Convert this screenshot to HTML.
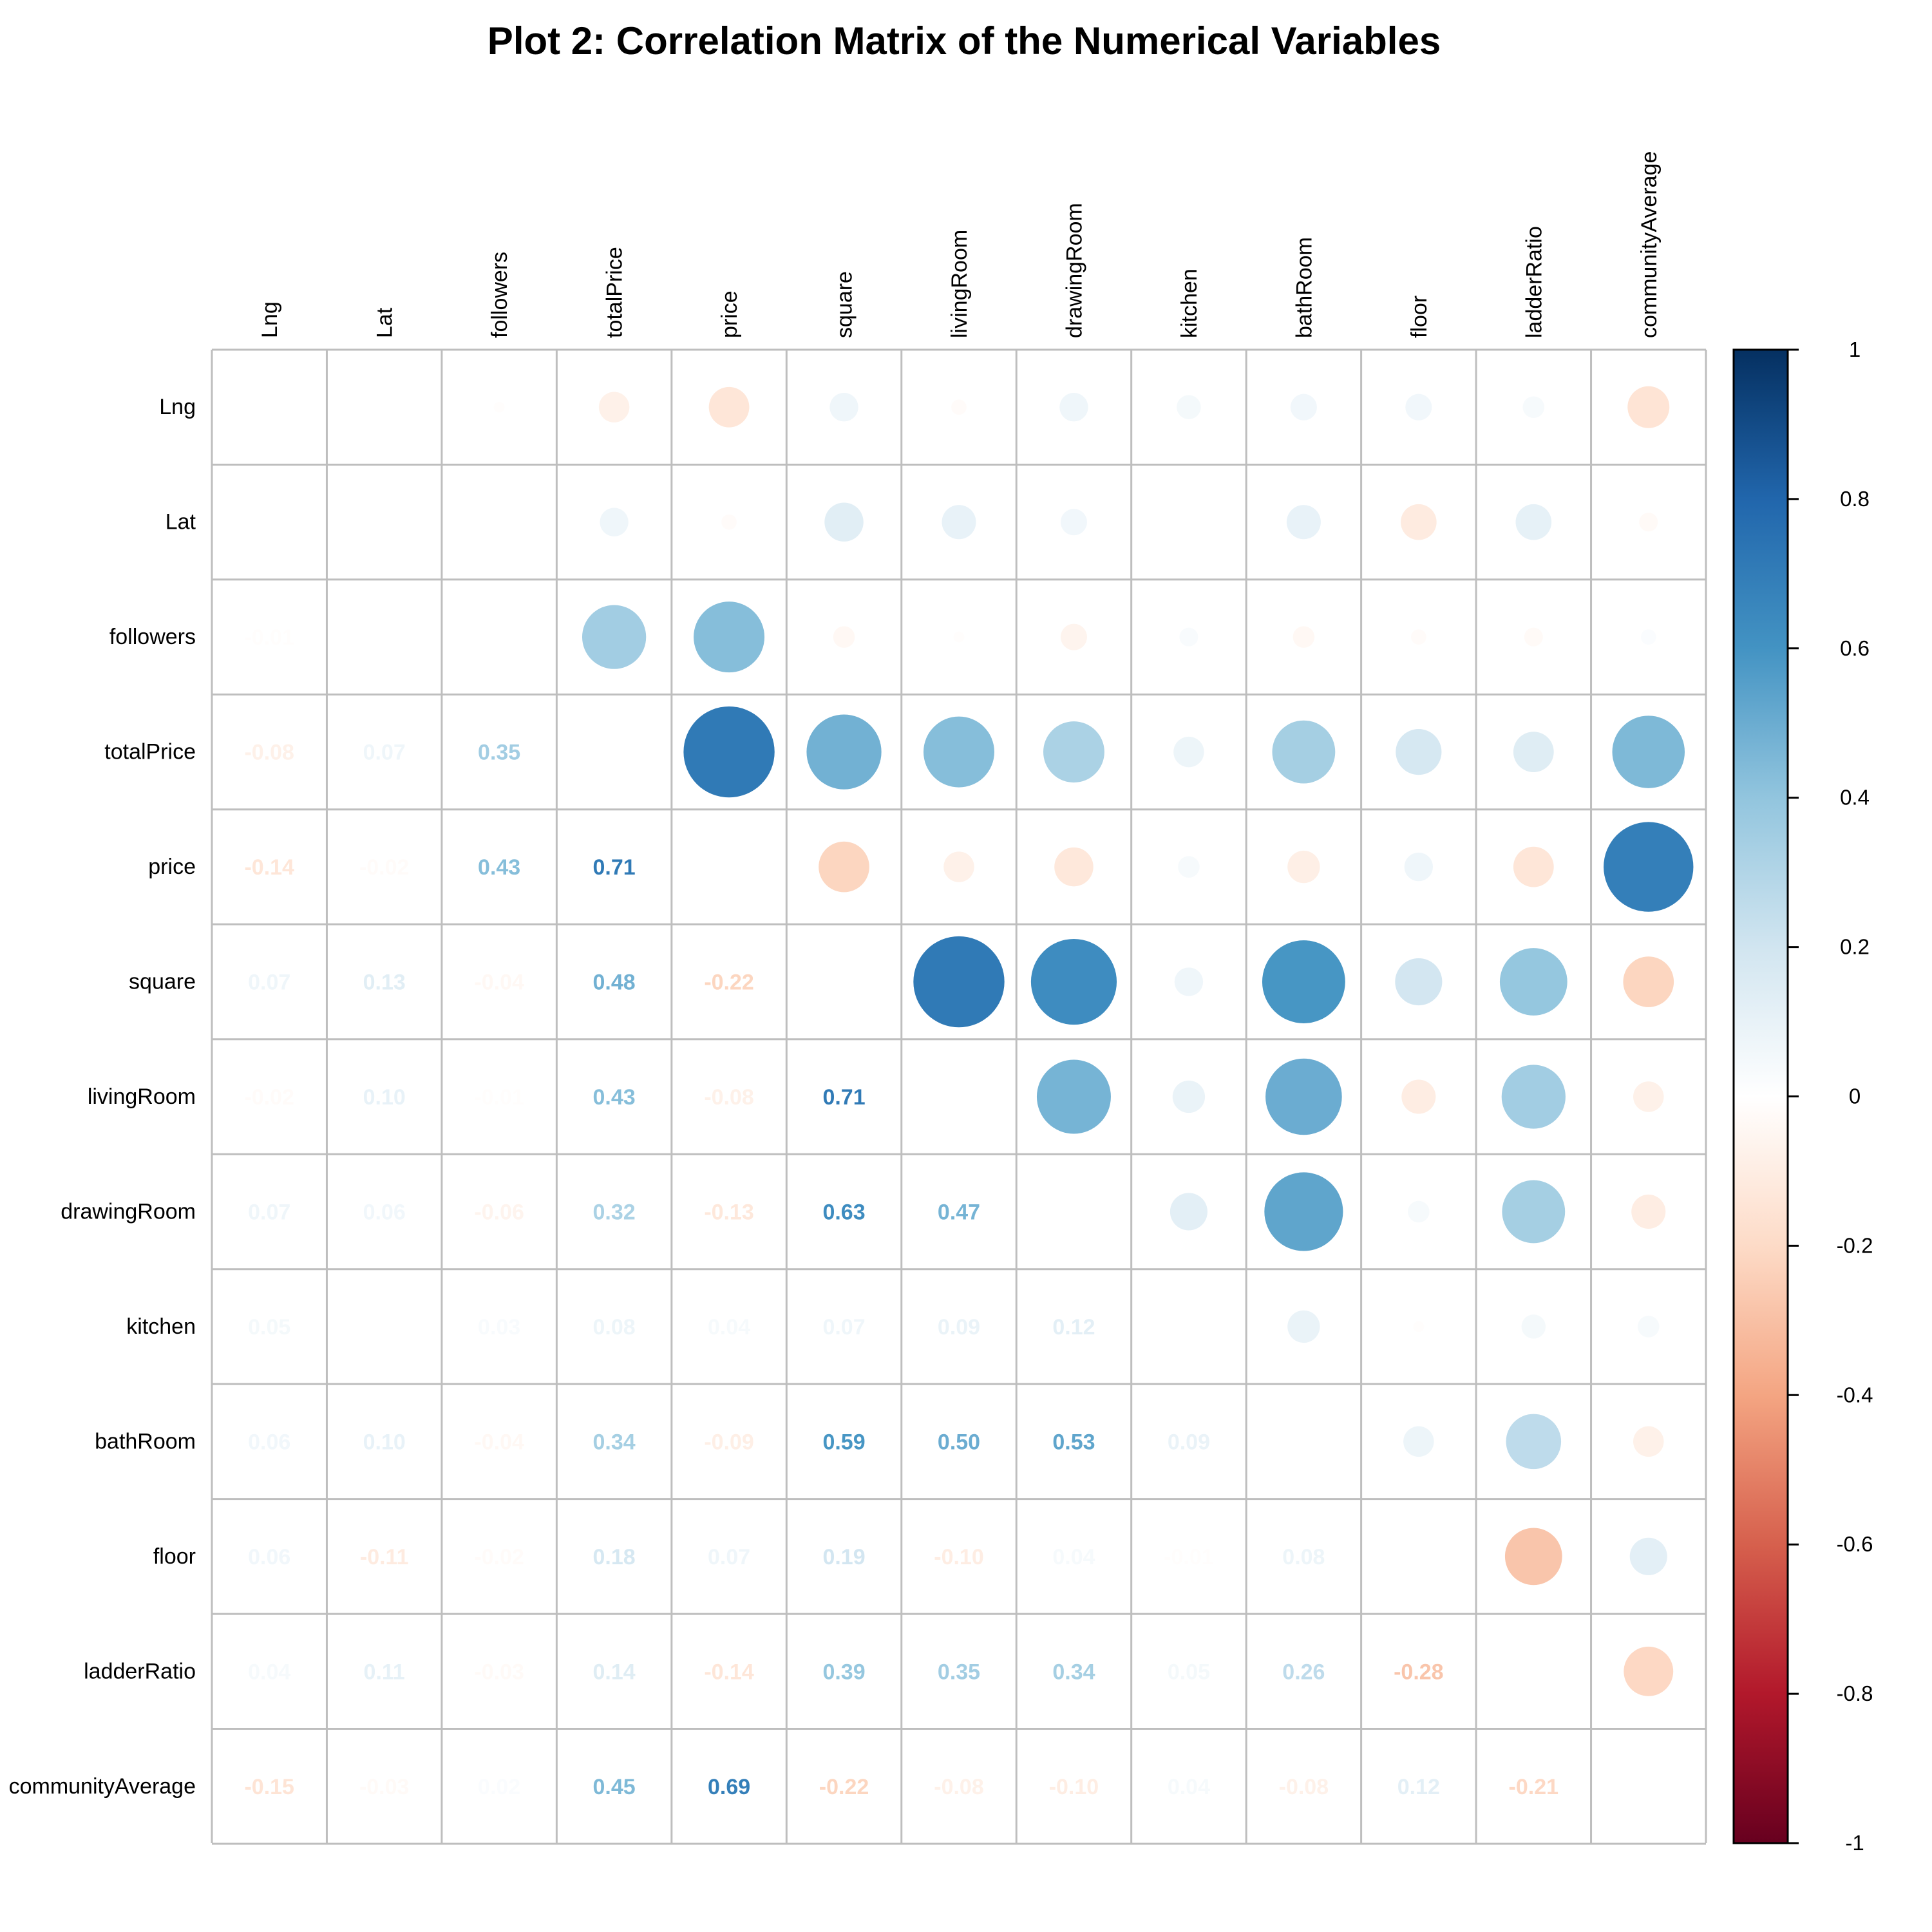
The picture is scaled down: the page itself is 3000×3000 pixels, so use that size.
<!DOCTYPE html>
<html><head><meta charset="utf-8"><style>
html,body{margin:0;padding:0;background:#fff;}
svg{display:block;font-family:"Liberation Sans",Arial,sans-serif;}
</style></head><body>
<svg id="chart" width="3000" height="3000" viewBox="0 0 3000 3000" xmlns="http://www.w3.org/2000/svg">
<defs>
<linearGradient id="cbgrad" x1="0" y1="1" x2="0" y2="0">
<stop offset="0" stop-color="#67001F"/><stop offset="0.1" stop-color="#B2182B"/><stop offset="0.2" stop-color="#D6604D"/><stop offset="0.3" stop-color="#F4A582"/><stop offset="0.4" stop-color="#FDDBC7"/><stop offset="0.5" stop-color="#FFFFFF"/><stop offset="0.6" stop-color="#D1E5F0"/><stop offset="0.7" stop-color="#92C5DE"/><stop offset="0.8" stop-color="#4393C3"/><stop offset="0.9" stop-color="#2166AC"/><stop offset="1" stop-color="#053061"/>
</linearGradient>
</defs>
<text x="1497" y="84" font-size="60" font-weight="bold" text-anchor="middle">Plot 2: Correlation Matrix of the Numerical Variables</text>
<g id="grid"></g>
<g id="marks"></g>
<g id="labels"></g>
<g id="colorbar"></g>
</svg>
<script>
const variables = ["Lng","Lat","followers","totalPrice","price","square","livingRoom","drawingRoom","kitchen","bathRoom","floor","ladderRatio","communityAverage"];
const lowerTriangle = [
  [],
  [0.00],
  [-0.01,0.00],
  [-0.08,0.07,0.35],
  [-0.14,-0.02,0.43,0.71],
  [0.07,0.13,-0.04,0.48,-0.22],
  [-0.02,0.10,-0.01,0.43,-0.08,0.71],
  [0.07,0.06,-0.06,0.32,-0.13,0.63,0.47],
  [0.05,0.00,0.03,0.08,0.04,0.07,0.09,0.12],
  [0.06,0.10,-0.04,0.34,-0.09,0.59,0.50,0.53,0.09],
  [0.06,-0.11,-0.02,0.18,0.07,0.19,-0.10,0.04,-0.01,0.08],
  [0.04,0.11,-0.03,0.14,-0.14,0.39,0.35,0.34,0.05,0.26,-0.28],
  [-0.15,-0.03,0.02,0.45,0.69,-0.22,-0.08,-0.10,0.04,-0.08,0.12,-0.21]
];
const colorbarTicks = [1,0.8,0.6,0.4,0.2,0,-0.2,-0.4,-0.6,-0.8,-1];

const NS = "http://www.w3.org/2000/svg";
const X0 = 329, Y0 = 543, X1 = 2649, Y1 = 2862;
const n = variables.length;
const cell = (X1 - X0) / n;
const xPos = j => X0 + (j + 0.5) * cell;
const yPos = i => Y0 + (i + 0.5) * cell;
const palette = ["#67001F","#B2182B","#D6604D","#F4A582","#FDDBC7","#FFFFFF","#D1E5F0","#92C5DE","#4393C3","#2166AC","#053061"];
function hex(h){return [1,3,5].map(k=>parseInt(h.substr(k,2),16));}
function color(v){
  const t = Math.max(0, Math.min(10, (v + 1) * 5));
  const k = Math.min(9, Math.floor(t)), f = t - k;
  const a = hex(palette[k]), b = hex(palette[k+1]);
  return "rgb(" + a.map((c,i)=>Math.round(c + (b[i]-c)*f)).join(",") + ")";
}
function val(i,j){ return i > j ? lowerTriangle[i][j] : lowerTriangle[j][i]; }
function mk(tag, attrs, parent){ const e = document.createElementNS(NS, tag); for (const k in attrs) e.setAttribute(k, attrs[k]); parent.appendChild(e); return e; }

const grid = document.getElementById("grid");
const marks = document.getElementById("marks");
const labels = document.getElementById("labels");
const cb = document.getElementById("colorbar");

for (let k = 0; k <= n; k++) {
  const p = X0 + k * cell;
  const v = mk("line", {x1:p, y1:Y0, x2:p, y2:Y1, stroke:"#BEBEBE", "stroke-width":3}, grid);
  
  
  const q = Y0 + k * cell;
  const h = mk("line", {x1:X0, y1:q, x2:X1, y2:q, stroke:"#BEBEBE", "stroke-width":3}, grid);
  
  
}

for (let i = 0; i < n; i++) {
  const rl = mk("text", {x:304, y:yPos(i)+11, "font-size":34, "text-anchor":"end"}, labels);
  rl.textContent = variables[i];
  
  
  const cl = mk("text", {x:0, y:0, "font-size":34, "text-anchor":"start", transform:"translate(" + (xPos(i)+12) + ",525) rotate(-90)"}, labels);
  cl.textContent = variables[i];
  
  
  for (let j = 0; j < n; j++) {
    if (i === j) continue;
    const v = val(i, j);
    if (j > i) {
      const r = Math.sqrt(Math.abs(v)) * 0.47 * cell;
      if (r > 0) {
        const c = mk("circle", {cx:xPos(j), cy:yPos(i), r:r, fill:color(v)}, marks);
        
        
      }
    } else {
      const t = mk("text", {x:xPos(j), y:yPos(i)+12, "font-size":34, "font-weight":"bold", "text-anchor":"middle", fill:color(v)}, marks);
      t.textContent = v.toFixed(2);
      
      
    }
  }
}

const CBX0 = 2692, CBX1 = 2776;
const bar = mk("rect", {x:CBX0, y:Y0, width:CBX1-CBX0, height:Y1-Y0, fill:"url(#cbgrad)", stroke:"#000", "stroke-width":3}, cb);


colorbarTicks.forEach(t => {
  const y = Y1 - (t + 1) / 2 * (Y1 - Y0);
  const tk = mk("line", {x1:CBX1, y1:y, x2:2793, y2:y, stroke:"#000", "stroke-width":3}, cb);
  
  
  const tl = mk("text", {x:2880, y:y+11, "font-size":33, "text-anchor":"middle"}, cb);
  tl.textContent = String(t);
  
  
});
</script>
</body></html>
